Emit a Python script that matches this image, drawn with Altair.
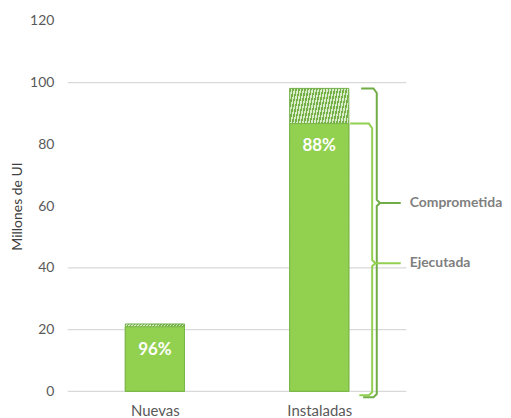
import altair as alt
import pandas as pd

# ---- data ----
categories = ["Nuevas", "Instaladas"]
cat_pos = [0.5, 1.5]
executed = [20.9, 86.7]
committed = [21.8, 98.1]
pct_labels = ["96%", "88%"]
grid_values = [0, 20, 40, 100]

brace_names = ["Comprometida", "Ejecutada"]
brace_top = [98.1, 86.7]
brace_tip = [61.0, 41.5]
brace_bottom = [-1.9, -1.3]
brace_colors = ["#70ad47", "#92d050"]
# horizontal geometry of the braces (x scale units)
brace_x_start_top = [1.755, 1.688]
brace_x_start_bot = [1.767, 1.744]
brace_x_vert = [1.850, 1.822]
brace_x_tip = [1.996, 1.996]
label_x = 2.05

BAR_HALF = 0.18

bars = pd.DataFrame({
    "cat": categories, "pos": cat_pos, "exec": executed,
    "comm": committed, "pct": pct_labels,
})

rows = []
for i, n in enumerate(brace_names):
    xs, xb, xv, xt = brace_x_start_top[i], brace_x_start_bot[i], brace_x_vert[i], brace_x_tip[i]
    t, m, b = brace_top[i], brace_tip[i], brace_bottom[i]
    pts = [(xs, t), (xv - 0.02, t), (xv, t - 1.5), (xv, m + 1.0), (xv + 0.02, m),
           (xt, m), (xv + 0.02, m), (xv, m - 1.0), (xv, b + 1.0), (xv - 0.02, b), (xb, b)]
    for k, (x, y) in enumerate(pts):
        rows.append({"brace": n, "o": k, "x": x, "y": y})
brace_df = pd.DataFrame(rows)
brace_lbl = pd.DataFrame({"brace": brace_names, "x": [label_x] * 2, "y": brace_tip})

label_expr = " : ".join(
    f"datum.value == {p} ? '{c}'" for p, c in zip(cat_pos, categories)
) + " : ''"

# fine diagonal hatch imitation for the committed (not yet executed) part
hatch_stops = []
N_STRIPES = 40
for k in range(N_STRIPES):
    a, b = k / N_STRIPES, (k + 0.5) / N_STRIPES
    c = (k + 1) / N_STRIPES
    hatch_stops += [
        alt.GradientStop(color="#74b045", offset=a),
        alt.GradientStop(color="#74b045", offset=b),
        alt.GradientStop(color="#d9ecca", offset=b),
        alt.GradientStop(color="#d9ecca", offset=c),
    ]
hatch = alt.LinearGradient(gradient="linear", stops=hatch_stops,
                           x1=0, y1=0, x2=1, y2=1)

FONT = "Lato"
xscale = alt.Scale(domain=[0, 2], nice=False, zero=False)
yscale = alt.Scale(domain=[0, 120], nice=False)

base = alt.Chart(bars).transform_calculate(
    x0=f"datum.pos - {BAR_HALF}", x1=f"datum.pos + {BAR_HALF}"
)

grid = alt.Chart(pd.DataFrame({"g": grid_values})).mark_rule(
    color="#d9d9d9", strokeWidth=1.3
).encode(y=alt.Y("g:Q", scale=yscale))

comm_bar = base.mark_bar(fill=hatch, stroke="#70ad47", strokeWidth=1,
                         orient="vertical").encode(
    x=alt.X("x0:Q", scale=xscale,
            axis=alt.Axis(values=cat_pos, labelExpr=label_expr, title=None,
                          grid=False, domain=False, ticks=False,
                          labelFont=FONT, labelFontSize=15, labelColor="#595959",
                          labelPadding=12)),
    x2="x1:Q",
    y=alt.Y("comm:Q", scale=yscale,
            axis=alt.Axis(values=[0, 20, 40, 60, 80, 100, 120], grid=False,
                          domain=False, ticks=False, title="Millones de UI",
                          labelFont=FONT, labelFontSize=14, labelColor="#595959",
                          labelPadding=14, titleFont=FONT, titleFontSize=14,
                          titleFontWeight="normal", titleColor="#404040",
                          titlePadding=5)),
    y2=alt.datum(0),
)

exec_bar = base.mark_bar(fill="#92d050", stroke="#7ab648", strokeWidth=1,
                         orient="vertical").encode(
    x=alt.X("x0:Q", scale=xscale), x2="x1:Q",
    y=alt.Y("exec:Q", scale=yscale), y2=alt.datum(0),
)

pct = base.mark_text(color="white", font=FONT, fontSize=17, fontWeight="bold",
                     baseline="middle", dy=23).encode(
    x=alt.X("pos:Q", scale=xscale), y=alt.Y("exec:Q", scale=yscale), text="pct:N"
)

braces = alt.Chart(brace_df).mark_line(strokeWidth=2, interpolate="linear").encode(
    x=alt.X("x:Q", scale=xscale), y=alt.Y("y:Q", scale=yscale),
    detail="brace:N", order="o:Q",
    color=alt.Color("brace:N", scale=alt.Scale(domain=brace_names, range=brace_colors),
                    legend=None),
)

brace_text = alt.Chart(brace_lbl).mark_text(
    align="left", baseline="middle", font=FONT, fontSize=14, fontWeight="bold",
    color="#7f7f7f"
).encode(x=alt.X("x:Q", scale=xscale), y=alt.Y("y:Q", scale=yscale), text="brace:N")

chart = alt.layer(grid, comm_bar, exec_bar, pct, braces, brace_text).properties(
    width=340, height=372,
    padding={"left": 2, "top": 5, "right": 0, "bottom": 0},
).configure_view(stroke=None)

chart.save("out.html", embed_options={"renderer": "svg", "actions": False})
